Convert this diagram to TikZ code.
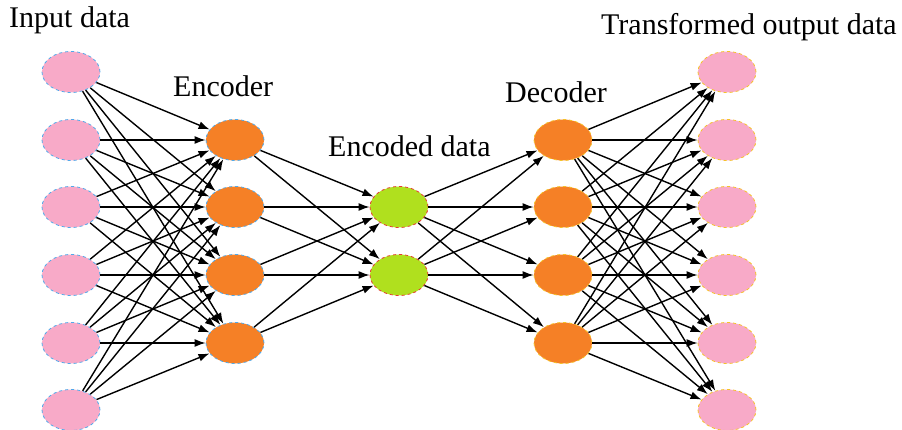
\documentclass[tikz,border=0pt]{standalone}
\usepackage{fontspec}
\setmainfont{Liberation Serif}
\usepackage{tikz}
\usetikzlibrary{shapes.geometric,arrows.meta}

\definecolor{pinkfill}{RGB}{248,170,200}
\definecolor{orangefill}{RGB}{245,128,38}
\definecolor{greenfill}{RGB}{176,224,30}
\definecolor{blueline}{RGB}{80,170,235}
\definecolor{redline}{RGB}{230,60,50}
\definecolor{goldline}{RGB}{245,195,40}

\tikzset{
  unit/.style={ellipse,minimum width=58pt,minimum height=41pt,inner sep=0pt,
    dashed,line width=0.8pt},
  conn/.style={-{Latex[length=11pt,width=8pt]},line width=1.4pt,black},
  lbl/.style={anchor=base west,inner sep=0pt,font=\fontsize{30}{34}\selectfont}
}

\begin{document}
\begin{tikzpicture}[x=1pt,y=-1pt]
\useasboundingbox (0,0) rectangle (902,430);
% layers
\node[unit,fill=pinkfill,draw=blueline] (in1) at (71,72) {};
\node[unit,fill=pinkfill,draw=blueline] (in2) at (71,140) {};
\node[unit,fill=pinkfill,draw=blueline] (in3) at (71,207) {};
\node[unit,fill=pinkfill,draw=blueline] (in4) at (71,275) {};
\node[unit,fill=pinkfill,draw=blueline] (in5) at (71,343) {};
\node[unit,fill=pinkfill,draw=blueline] (in6) at (71,410) {};
\node[unit,fill=orangefill,draw=blueline] (enc1) at (235,140) {};
\node[unit,fill=orangefill,draw=blueline] (enc2) at (235,207) {};
\node[unit,fill=orangefill,draw=blueline] (enc3) at (235,275) {};
\node[unit,fill=orangefill,draw=blueline] (enc4) at (235,343) {};
\node[unit,fill=greenfill,draw=redline] (code1) at (399,207) {};
\node[unit,fill=greenfill,draw=redline] (code2) at (399,275) {};
\node[unit,fill=orangefill,draw=goldline] (dec1) at (563,140) {};
\node[unit,fill=orangefill,draw=goldline] (dec2) at (563,207) {};
\node[unit,fill=orangefill,draw=goldline] (dec3) at (563,275) {};
\node[unit,fill=orangefill,draw=goldline] (dec4) at (563,343) {};
\node[unit,fill=pinkfill,draw=goldline] (out1) at (727,72) {};
\node[unit,fill=pinkfill,draw=goldline] (out2) at (727,140) {};
\node[unit,fill=pinkfill,draw=goldline] (out3) at (727,207) {};
\node[unit,fill=pinkfill,draw=goldline] (out4) at (727,275) {};
\node[unit,fill=pinkfill,draw=goldline] (out5) at (727,343) {};
\node[unit,fill=pinkfill,draw=goldline] (out6) at (727,410) {};
% connections
\foreach \i in {1,...,6} \foreach \j in {1,...,4} \draw[conn] (in\i) -- (enc\j);
\foreach \i in {1,...,4} \foreach \j in {1,2} \draw[conn] (enc\i) -- (code\j);
\foreach \i in {1,2} \foreach \j in {1,...,4} \draw[conn] (code\i) -- (dec\j);
\foreach \i in {1,...,4} \foreach \j in {1,...,6} \draw[conn] (dec\i) -- (out\j);
% titles
\node[lbl] (tin) at (9,28) {Input data};
\node[lbl] (tenc) at (173,97) {Encoder};
\node[lbl] (tcode) at (328,157) {Encoded data};
\node[lbl] (tdec) at (505,103) {Decoder};
\node[lbl] (tout) at (601,35) {Transformed output data};
\end{tikzpicture}
\end{document}
